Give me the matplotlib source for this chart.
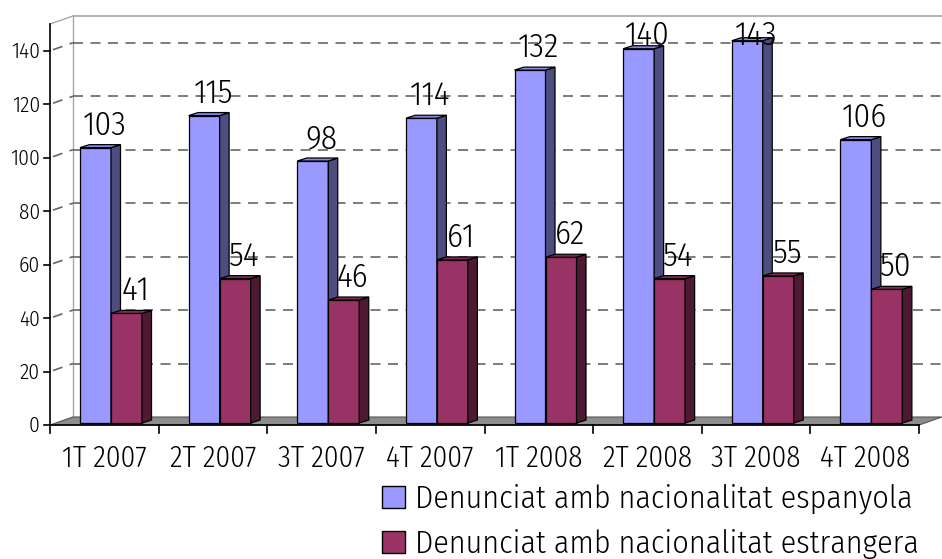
import matplotlib
matplotlib.use('Agg')
import matplotlib.pyplot as plt
from matplotlib.patches import Polygon, Rectangle

# ---------------- data ----------------
categories = ['1T 2007', '2T 2007', '3T 2007', '4T 2007',
              '1T 2008', '2T 2008', '3T 2008', '4T 2008']
spanish = [103, 115, 98, 114, 132, 140, 143, 106]
foreign = [41, 54, 46, 61, 62, 54, 55, 50]
series_names = ['Denunciat amb nacionalitat espanyola',
                'Denunciat amb nacionalitat estrangera']
yticks = [0, 20, 40, 60, 80, 100, 120, 140]
ymax = 150

# ---------------- style ----------------
FONT = ['Fira Sans Condensed', 'Roboto Condensed', 'DejaVu Sans']
plt.rcParams['font.family'] = FONT
plt.rcParams['font.weight'] = 300
front_cols = ['#9999FF', '#993366']
side_cols = ['#4D4D80', '#4D1933']
top_cols = ['#8888EE', '#86295A']

W, H = 942, 559
fig = plt.figure(figsize=(W / 100, H / 100), dpi=100)
AX_L, AX_R, AX_B, AX_T = 50, 919, 425, 24
ax = fig.add_axes([AX_L / W, (H - AX_B) / H, (AX_R - AX_L) / W, (AX_B - AX_T) / H])
n = len(categories)
ax.set_xlim(0, n)
ax.set_ylim(0, ymax)
ax.axis('off')

PXX = (AX_R - AX_L) / n        # pixels per category
PXY = (AX_B - AX_T) / ymax     # pixels per value unit


def dx(p):
    return p / PXX


def dy(p):
    return p / PXY


BX, BY = dx(23), dy(8)   # depth of back wall
SX, SY = dx(9.5), dy(3)  # depth of bars
base = dy(2)

grid_col = '#666666'
wall_col = '#A6A6A6'

# back wall edges
ax.plot([BX, n + BX], [ymax + BY, ymax + BY], color=wall_col, lw=1.2, clip_on=False, zorder=1)
ax.plot([BX, BX], [BY, ymax + BY], color=wall_col, lw=1.0, clip_on=False, zorder=1)
ax.plot([0, BX], [ymax, ymax + BY], color=wall_col, lw=1.0, clip_on=False, zorder=1)

# gridlines (back wall + side wall)
for v in yticks[1:]:
    ax.plot([BX, n + BX], [v + BY, v + BY], color=grid_col, lw=1.2,
            ls=(0, (6, 4.5)), clip_on=False, zorder=1)
    ax.plot([dx(3), BX], [v + dy(1), v + BY], color=grid_col, lw=1.2,
            ls=(0, (6, 4.5)), clip_on=False, zorder=1)

# floor
ax.add_patch(Polygon([(0, 0), (n, 0), (n + BX, BY), (BX, BY)], closed=True,
                     facecolor='#8C8C8C', edgecolor='#555555', lw=0.8,
                     clip_on=False, zorder=2))

# bars
bar_w = dx(31)
offs = [dx(30), dx(30) + bar_w]
for i in range(n):
    for s, vals in enumerate([spanish, foreign]):
        v = vals[i]
        x0 = i + offs[s]
        x1 = x0 + bar_w
        yt = base + v
        ax.add_patch(Rectangle((x0, base), bar_w, v, facecolor=front_cols[s],
                               edgecolor='black', lw=0.9, clip_on=False, zorder=3))
        ax.add_patch(Polygon([(x1, base), (x1 + SX, base + SY), (x1 + SX, yt + SY), (x1, yt)],
                             closed=True, facecolor=side_cols[s], edgecolor='black',
                             lw=0.9, clip_on=False, zorder=3))
        ax.add_patch(Polygon([(x0, yt), (x1, yt), (x1 + SX, yt + SY), (x0 + SX, yt + SY)],
                             closed=True, facecolor=top_cols[s], edgecolor='black',
                             lw=0.9, clip_on=False, zorder=3))
        gap = min(13, (ymax - yt) * PXY - 21)
        ax.text(x0 + bar_w / 2 + dx(9), yt + dy(gap), str(v), ha='center',
                va='baseline', fontsize=24, color='black', zorder=5)

# axes lines and ticks
ax.plot([0, 0], [0, ymax], color='black', lw=1.2, clip_on=False, zorder=4)
ax.plot([0, n], [0, 0], color='black', lw=1.2, clip_on=False, zorder=4)
for v in yticks:
    ax.plot([-dx(6), 0], [v, v], color='black', lw=1.2, clip_on=False, zorder=4)
    ax.text(-dx(10), v - dy(7.5), str(v), ha='right', va='baseline',
            fontsize=15.5, color='black')
for i in range(n + 1):
    ax.plot([i, i], [0, -dy(8)], color='black', lw=1.2, clip_on=False, zorder=4)
for i, c in enumerate(categories):
    ax.text(i + 0.5, -dy(42), c, ha='center', va='baseline', fontsize=21, color='black')

# legend
def fx(p):
    return p / W


def fy(p):
    return (H - p) / H


rows = [(486, 508), (531, 553)]
for s, (t, b) in enumerate(rows):
    fig.patches.append(Rectangle((fx(382), fy(b)), fx(405) - fx(382), fy(t) - fy(b),
                                 transform=fig.transFigure, facecolor=front_cols[s],
                                 edgecolor='black', lw=1.0))
    fig.text(fx(415), fy(b), series_names[s], ha='left', va='baseline',
             fontsize=23, color='black')

fig.savefig('out.png', dpi=100)
